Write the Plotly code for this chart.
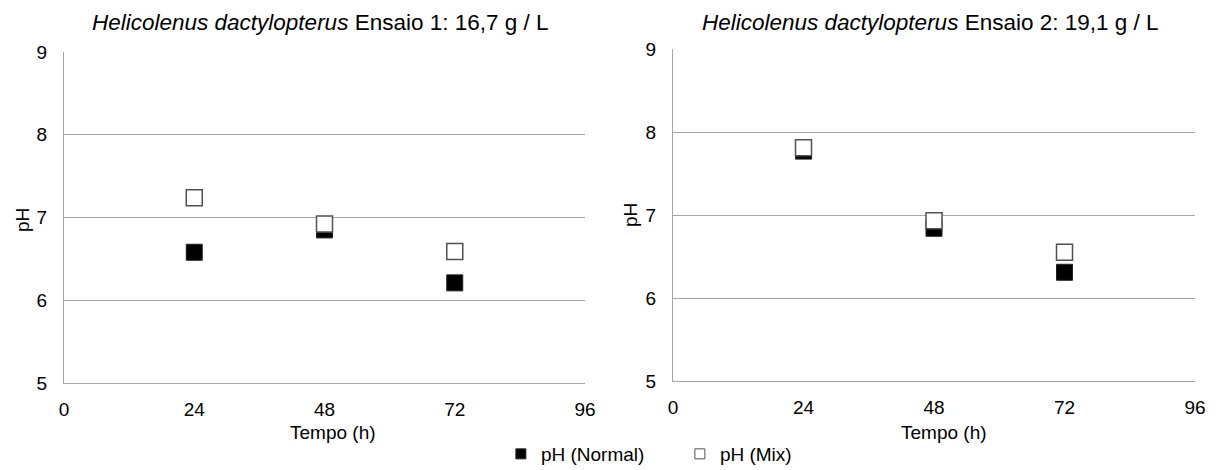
import plotly.graph_objects as go

# Data
tempo = [24, 48, 72]
ph_normal_1 = [6.58, 6.85, 6.21]
ph_mix_1 = [7.24, 6.92, 6.59]
ph_normal_2 = [7.77, 6.84, 6.31]
ph_mix_2 = [7.81, 6.93, 6.55]
x_ticks = [0, 24, 48, 72, 96]
y_ticks = [5, 6, 7, 8, 9]
titles = ["<i>Helicolenus dactylopterus</i> Ensaio 1: 16,7 g / L",
          "<i>Helicolenus dactylopterus</i> Ensaio 2: 19,1 g / L"]
series_names = ["pH (Normal)", "pH (Mix)"]

FONT = "Liberation Sans, Arial, sans-serif"
GRID = "#a6a6a6"
OFF = 8  # page body margin offset

normal_marker = dict(symbol="square", size=16, color="black",
                     line=dict(color="#222222", width=1))
mix_marker = dict(symbol="square", size=16, color="white",
                  line=dict(color="#505050", width=1.5))

fig = go.Figure()

def add_panel(idx, normal, mix):
    xa = "x" if idx == 0 else "x2"
    ya = "y" if idx == 0 else "y2"
    fig.add_trace(go.Scatter(
        x=tempo, y=normal, mode="markers", name=series_names[0],
        marker=normal_marker, xaxis=xa, yaxis=ya, showlegend=False,
        legendgroup="n"))
    fig.add_trace(go.Scatter(
        x=tempo, y=mix, mode="markers", name=series_names[1],
        marker=mix_marker, xaxis=xa, yaxis=ya, showlegend=False,
        legendgroup="m"))

add_panel(0, ph_normal_1, ph_mix_1)
add_panel(1, ph_normal_2, ph_mix_2)

# legend entries (smaller symbols as in the reference legend)
fig.add_trace(go.Scatter(x=[None], y=[None], mode="markers", name=series_names[0],
                         marker=dict(symbol="square", size=10, color="black",
                                     line=dict(color="#222222", width=1)),
                         legendgroup="n", showlegend=True))
fig.add_trace(go.Scatter(x=[None], y=[None], mode="markers", name=series_names[1],
                         marker=dict(symbol="square", size=10, color="white",
                                     line=dict(color="#505050", width=1)),
                         legendgroup="m", showlegend=True))

W, H = 1220, 470

def px(x):
    return (x - OFF) / W

def py(y):
    return 1 - (y - OFF) / H

xdom1 = [px(64), px(585)]
xdom2 = [px(673), px(1195)]
ydom1 = [py(383), py(52)]
ydom2 = [py(381), py(49)]

xcommon = dict(range=[0, 96], tickvals=x_ticks, showgrid=False, zeroline=False,
               showline=True, linecolor=GRID, linewidth=1, ticks="",
               tickfont=dict(family=FONT, size=19, color="black"),
               ticklabelstandoff=9, automargin=False)
ycommon = dict(range=[5, 9], tickvals=y_ticks, showgrid=True, gridcolor=GRID,
               gridwidth=1, zeroline=False, showline=True, linecolor=GRID,
               linewidth=1, ticks="", tickfont=dict(family=FONT, size=19, color="black"),
               ticklabelstandoff=12, automargin=False)

fig.update_layout(
    width=W, height=H,
    margin=dict(l=0, r=0, t=0, b=0),
    paper_bgcolor="white", plot_bgcolor="white",
    xaxis=dict(domain=xdom1, anchor="y", **xcommon),
    yaxis=dict(domain=ydom1, anchor="x", **ycommon),
    xaxis2=dict(domain=xdom2, anchor="y2", **xcommon),
    yaxis2=dict(domain=ydom2, anchor="x2", **ycommon),
    showlegend=True,
    legend=dict(orientation="h", x=0.404, y=5 / H, xanchor="left", yanchor="bottom",
                font=dict(family=FONT, size=19, color="black"),
                itemsizing="trace", itemwidth=30,
                entrywidth=134, entrywidthmode="pixels",
                bgcolor="rgba(0,0,0,0)"),
)

ann = []
# subplot titles
ann.append(dict(text=titles[0], x=px(320), y=py(22), xref="paper", yref="paper",
                showarrow=False, font=dict(family=FONT, size=22.5, color="black"),
                xanchor="center", yanchor="middle"))
ann.append(dict(text=titles[1], x=px(930), y=py(22), xref="paper", yref="paper",
                showarrow=False, font=dict(family=FONT, size=22.5, color="black"),
                xanchor="center", yanchor="middle"))
# axis titles
for xc in (333, 944):
    ann.append(dict(text="Tempo (h)", x=px(xc), y=py(432), xref="paper", yref="paper",
                    showarrow=False, font=dict(family=FONT, size=19, color="black"),
                    xanchor="center", yanchor="middle"))
for xc, yc in ((22, 220), (630, 215)):
    ann.append(dict(text="pH", x=px(xc), y=py(yc), xref="paper", yref="paper",
                    showarrow=False, textangle=-90,
                    font=dict(family=FONT, size=19, color="black"),
                    xanchor="center", yanchor="middle"))
fig.update_layout(annotations=ann)

fig.write_html("out.html")
